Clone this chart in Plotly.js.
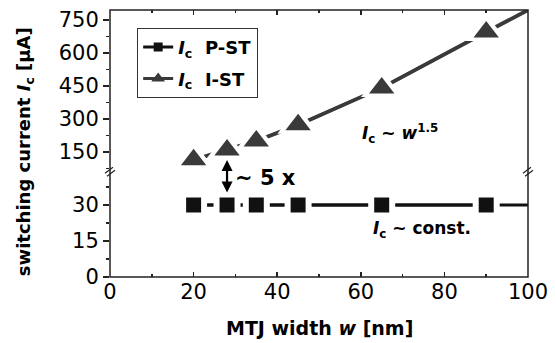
<!DOCTYPE html>
<html>
<head>
<meta charset="utf-8">
<script src="https://cdn.plot.ly/plotly-3.0.1.min.js"></script>
<style>html,body{margin:0;padding:0;background:#fff;}#chart{width:556px;height:343px;}</style>
</head>
<body>
<div id="chart"></div>
<script>
// ---- data ----
const widths = [20, 28, 35, 45, 65, 90];            // MTJ width w [nm]
const pstCurrent = [30, 30, 30, 30, 30, 30];         // Ic P-ST [uA]
const istCurrent = [114, 159, 200, 273, 441, 695];   // Ic I-ST [uA]
const guideEndW = 100;                               // guide lines run to the right edge
const pstGuideEnd = 30;
const istGuideEnd = 795;
const xTicks = [0, 20, 40, 60, 80, 100];
const yLowTicks = [0, 15, 30];
const yHighTicks = [150, 300, 450, 600, 750];

const pstLineX = widths.concat([guideEndW]);
const pstLineY = pstCurrent.concat([pstGuideEnd]);
const istLineX = widths.concat([guideEndW]);
const istLineY = istCurrent.concat([istGuideEnd]);

const FONT = 'DejaVu Sans, Arial, sans-serif';
const pstColor = '#111111';
const istColor = '#3a3a3a';

const traces = [
  // guide lines (full length)
  {x: pstLineX, y: pstLineY, xaxis: 'x', yaxis: 'y', mode: 'lines', showlegend: false,
   line: {color: pstColor, width: 3}, hoverinfo: 'skip'},
  {x: istLineX, y: istLineY, xaxis: 'x2', yaxis: 'y2', mode: 'lines', showlegend: false,
   line: {color: istColor, width: 3.8}, hoverinfo: 'skip'},
  // legend-carrying traces
  {x: widths, y: pstCurrent, xaxis: 'x', yaxis: 'y', mode: 'lines+markers',
   name: '<b><i>I</i><sub>c</sub>&nbsp;&nbsp;P-ST</b>', legendgroup: 'p',
   line: {color: pstColor, width: 3}, marker: {symbol: 'square', size: 9, color: pstColor}},
  {x: widths, y: istCurrent, xaxis: 'x2', yaxis: 'y2', mode: 'lines+markers',
   name: '<b><i>I</i><sub>c</sub>&nbsp;&nbsp;I-ST</b>', legendgroup: 'i',
   line: {color: istColor, width: 3}, marker: {symbol: 'triangle-up', size: 12, color: istColor}},
  // white halos (gaps in the line around the symbols)
  {x: widths, y: pstCurrent, xaxis: 'x', yaxis: 'y', mode: 'markers', showlegend: false,
   marker: {symbol: 'square', size: 27, color: '#ffffff'}, hoverinfo: 'skip', cliponaxis: false},
  {x: widths, y: istCurrent, xaxis: 'x2', yaxis: 'y2', mode: 'markers', showlegend: false,
   marker: {symbol: 'triangle-up', size: 36, color: '#ffffff'}, hoverinfo: 'skip', cliponaxis: false},
  // visible symbols
  {x: widths, y: pstCurrent, xaxis: 'x', yaxis: 'y', mode: 'markers', showlegend: false,
   marker: {symbol: 'square', size: 15, color: pstColor}, cliponaxis: false},
  {x: widths, y: istCurrent, xaxis: 'x2', yaxis: 'y2', mode: 'markers', showlegend: false,
   marker: {symbol: 'triangle-up', size: 22, color: istColor}, cliponaxis: false}
];

const tickFont = {family: FONT, size: 21, color: '#000'};
const common = {showgrid: false, zeroline: false, showline: false, tickcolor: '#222', tickwidth: 1.5};

const layout = {
  width: 556, height: 343,
  margin: {l: 110, r: 28, t: 10, b: 66},
  paper_bgcolor: '#fff', plot_bgcolor: '#fff',
  showlegend: true,
  legend: {x: 0.065, y: 0.933, xanchor: 'left', yanchor: 'top',
           bordercolor: '#333', borderwidth: 1, bgcolor: '#fff',
           font: {family: FONT, size: 18, color: '#000'},
           traceorder: 'grouped', tracegroupgap: 5, itemwidth: 30},
  xaxis: Object.assign({}, common, {domain: [0, 1], anchor: 'y', range: [0, 100],
    tickvals: xTicks, ticks: 'inside', ticklen: 5, tickfont: tickFont,
    minor: {dtick: 10, tick0: 0, ticks: 'inside', ticklen: 3, tickcolor: '#222'}}),
  xaxis2: Object.assign({}, common, {domain: [0, 1], anchor: 'y2', side: 'top', matches: 'x',
    range: [0, 100], tickvals: xTicks, ticks: 'inside', ticklen: 5, showticklabels: false,
    minor: {dtick: 10, tick0: 0, ticks: 'inside', ticklen: 3, tickcolor: '#222'}}),
  yaxis: Object.assign({}, common, {domain: [0, 0.4], anchor: 'x', range: [0, 44.5],
    tickvals: yLowTicks, ticks: 'outside', ticklen: 6, tickfont: tickFont,
    minor: {dtick: 7.5, tick0: 0, ticks: 'outside', ticklen: 3, tickcolor: '#222'}}),
  yaxis2: Object.assign({}, common, {domain: [0.4, 1], anchor: 'x2', range: [67, 795],
    tickvals: yHighTicks, ticks: 'outside', ticklen: 6, tickfont: tickFont,
    minor: {dtick: 75, tick0: 0, ticks: 'outside', ticklen: 3, tickcolor: '#222'}}),
  yaxis3: Object.assign({}, common, {overlaying: 'y', side: 'right', anchor: 'x', range: [0, 44.5],
    tickvals: yLowTicks, ticks: 'inside', ticklen: 5, showticklabels: false}),
  yaxis4: Object.assign({}, common, {overlaying: 'y2', side: 'right', anchor: 'x2', range: [67, 795],
    tickvals: yHighTicks, ticks: 'inside', ticklen: 5, showticklabels: false}),
  shapes: [
    {type: 'rect', xref: 'paper', yref: 'paper', x0: 0, x1: 1, y0: 0, y1: 1,
     line: {color: '#222', width: 1.5}, layer: 'above'},
    // axis break marks
    {type: 'line', xref: 'paper', yref: 'paper', xsizemode: 'pixel', ysizemode: 'pixel',
     xanchor: 0, yanchor: 0.4, x0: -5, x1: 3, y0: -3, y1: 3, line: {color: '#222', width: 1.2}},
    {type: 'line', xref: 'paper', yref: 'paper', xsizemode: 'pixel', ysizemode: 'pixel',
     xanchor: 0, yanchor: 0.4, x0: -3, x1: 5, y0: -6, y1: 0, line: {color: '#222', width: 1.2}},
    {type: 'line', xref: 'paper', yref: 'paper', xsizemode: 'pixel', ysizemode: 'pixel',
     xanchor: 1, yanchor: 0.4, x0: -5, x1: 3, y0: -3, y1: 3, line: {color: '#222', width: 1.2}},
    {type: 'line', xref: 'paper', yref: 'paper', xsizemode: 'pixel', ysizemode: 'pixel',
     xanchor: 1, yanchor: 0.4, x0: -3, x1: 5, y0: -6, y1: 0, line: {color: '#222', width: 1.2}}
  ],
  annotations: [
    {xref: 'paper', yref: 'paper', x: 0.5, y: -0.191, xanchor: 'center', yanchor: 'middle',
     text: '<b>MTJ width <i>w</i> [nm]</b>', showarrow: false,
     font: {family: FONT, size: 19, color: '#000'}},
    {xref: 'paper', yref: 'paper', x: -0.203, y: 0.468, xanchor: 'center', yanchor: 'middle',
     textangle: -90, text: '<b>switching current <i>I</i><sub>c</sub> [µA]</b>', showarrow: false,
     font: {family: FONT, size: 18, color: '#000'}},
    {xref: 'x2', yref: 'y2', x: 69.3, y: 232, text: '<b><i>I</i><sub>c</sub> ~ <i>w</i><sup>1.5</sup></b>',
     showarrow: false, font: {family: FONT, size: 17, color: '#000'}},
    {xref: 'x', yref: 'y', x: 37.2, y: 41.2, text: '<b>~ 5 x</b>',
     showarrow: false, font: {family: FONT, size: 21, color: '#000'}},
    {xref: 'x', yref: 'y', x: 74.6, y: 19.6, text: '<b><i>I</i><sub>c</sub> ~ const.</b>',
     showarrow: false, font: {family: FONT, size: 17, color: '#000'}},
    // double-headed "~5x" arrow between I-ST and P-ST symbols at w = 28
    {xref: 'x', yref: 'paper', x: 28, y: 0.438, ax: 0, ay: 34, axref: 'pixel', ayref: 'pixel',
     text: '', showarrow: true, arrowside: 'end+start', arrowhead: 2, startarrowhead: 2,
     arrowsize: 1, startarrowsize: 1, arrowwidth: 2.2, arrowcolor: '#000'}
  ]
};

Plotly.newPlot('chart', traces, layout, {displayModeBar: false, staticPlot: true});
</script>
</body>
</html>
